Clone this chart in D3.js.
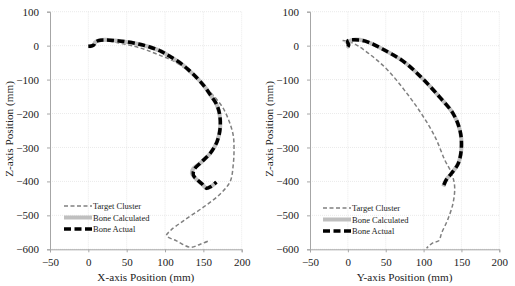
<!DOCTYPE html>
<html>
<head>
<meta charset="utf-8">
<script src="https://cdn.jsdelivr.net/npm/d3@7"></script>
<style>
  body { margin: 0; background: #fff; }
</style>
</head>
<body>
<div id="chart"></div>
<script>
const FONT = 'Liberation Serif';

// tick values shared by both panels
const hTicks = [-50, 0, 50, 100, 150, 200];
const zTicks = [100, 0, -100, -200, -300, -400, -500, -600];
const seriesNames = ['Target Cluster', 'Bone Calculated', 'Bone Actual'];

// X vs Z panel
const xzTarget = [[10,14],[22,15],[40,8],[60,-2],[76,-13],[95,-30],[111,-45],[128,-70],[145,-103],[158,-135],[168,-160],[176,-185],[184,-225],[189,-265],[190,-305],[189,-350],[185,-400],[172,-437],[150,-476],[124,-516],[107,-545],[102,-560],[115,-575],[133,-594],[146,-585],[159,-573]];
const xzCalc = [[0,-2],[4,-1],[7,2],[9,10],[13,15],[22,17],[35,15],[50,11],[65,5],[80,-4],[95,-17],[105,-30],[118,-48],[130,-70],[142,-96],[152,-122],[160,-148],[167,-172],[171,-200],[172,-240],[168,-282],[159,-317],[147,-344],[137,-362],[135,-375],[140,-392],[148,-407],[154,-420],[160,-415],[167,-402]];
const xzActual = [[0,-2],[4,-1],[7,2],[9,10],[13,15],[22,17],[35,15],[50,11],[65,5],[80,-4],[95,-17],[105,-30],[118,-48],[130,-70],[142,-96],[152,-122],[160,-148],[167,-172],[171,-200],[172,-240],[168,-282],[159,-317],[147,-344],[138,-365],[137,-382],[142,-395],[148,-407],[154,-420],[160,-415],[167,-402]];

// Y vs Z panel
const yzTarget = [[-7,15],[0,12],[9,5],[31,-29],[53,-73],[75,-132],[97,-200],[115,-268],[128,-337],[137,-376],[141,-415],[139,-463],[132,-512],[124,-551],[120,-575],[113,-580],[108,-588],[104,-597]];
const yzCalc = [[-3,14],[0,8],[1,2],[0,-3],[1,5],[3,14],[6,17],[22,14],[50,-15],[75,-49],[99,-98],[121,-151],[139,-200],[148,-249],[150,-298],[146,-346],[137,-376],[130,-395],[126,-415]];
const yzActual = [[0,-3],[1,2],[0,8],[0,14],[2,16],[6,17],[22,14],[50,-15],[75,-49],[99,-98],[121,-151],[139,-200],[148,-249],[150,-298],[146,-346],[137,-376],[130,-395],[126,-415]];

const svg = d3.select('#chart').append('svg')
    .attr('width', 515).attr('height', 286);

const styles = [
  { stroke: '#808080', width: 1.5, dash: '4,2.5' },
  { stroke: '#bfbfbf', width: 4, dash: null },
  { stroke: '#000000', width: 3.5, dash: '7,3.5' }
];

function panel(left, right, xTitle, series, legendX, legendY, titleX) {
  const top = 11.7, bottom = 249.3;
  const x = d3.scaleLinear().domain([-50, 200]).range([left, right]);
  const y = d3.scaleLinear().domain([-600, 100]).range([bottom, top]);
  const g = svg.append('g');

  // gridlines
  g.append('g').selectAll('line').data(zTicks).join('line')
      .attr('x1', left).attr('x2', right)
      .attr('y1', d => y(d)).attr('y2', d => y(d))
      .attr('stroke', '#e4e4e4').attr('stroke-width', 0.8).attr('stroke-dasharray', '1,1');
  g.append('g').selectAll('line').data(hTicks.slice(1)).join('line')
      .attr('y1', top).attr('y2', bottom)
      .attr('x1', d => x(d)).attr('x2', d => x(d))
      .attr('stroke', '#e4e4e4').attr('stroke-width', 0.8).attr('stroke-dasharray', '1,1');

  // axes
  const ax = g.append('g').attr('transform', `translate(0,${bottom})`)
      .call(d3.axisBottom(x).tickValues(hTicks).tickSize(3).tickPadding(6));
  const ay = g.append('g').attr('transform', `translate(${left},0)`)
      .call(d3.axisLeft(y).tickValues(zTicks).tickSize(3).tickPadding(8));
  [ax, ay].forEach(a => {
    a.attr('font-family', FONT).attr('font-size', 11);
    a.select('.domain').attr('stroke', '#a6a6a6');
    a.selectAll('.tick line').attr('stroke', '#a6a6a6');
    a.selectAll('.tick text').attr('font-family', FONT).attr('fill', '#222');
  });

  g.append('text').attr('x', (left + right) / 2).attr('y', 281)
      .attr('text-anchor', 'middle').attr('font-size', 11.2)
      .attr('font-family', FONT).attr('fill', '#222').text(xTitle);
  g.append('text')
      .attr('transform', `translate(${titleX},129) rotate(-90)`)
      .attr('text-anchor', 'middle').attr('font-size', 11.2)
      .attr('font-family', FONT).attr('fill', '#222').text('Z-axis Position (mm)');

  const line = d3.line().x(d => x(d[0])).y(d => y(d[1])).curve(d3.curveCatmullRom);

  series.forEach((s, i) => {
    g.append('path').datum(s)
      .attr('d', line)
      .attr('fill', 'none')
      .attr('stroke', styles[i].stroke)
      .attr('stroke-width', styles[i].width)
      .attr('stroke-dasharray', styles[i].dash);
  });

  // legend
  seriesNames.forEach((name, i) => {
    const ly = legendY + i * 11.5;
    g.append('line')
      .attr('x1', legendX).attr('x2', legendX + 28)
      .attr('y1', ly).attr('y2', ly)
      .attr('stroke', styles[i].stroke)
      .attr('stroke-width', styles[i].width)
      .attr('stroke-dasharray', styles[i].dash);
    g.append('text').attr('x', legendX + 29).attr('y', ly + 3)
      .attr('font-size', 8.5).attr('font-family', FONT).attr('fill', '#222')
      .text(name);
  });
}

panel(50, 241.7, 'X-axis Position (mm)', [xzTarget, xzCalc, xzActual], 64, 206, 13);
panel(310, 499.3, 'Y-axis Position (mm)', [yzTarget, yzCalc, yzActual], 323, 208, 273);
</script>
</body>
</html>
